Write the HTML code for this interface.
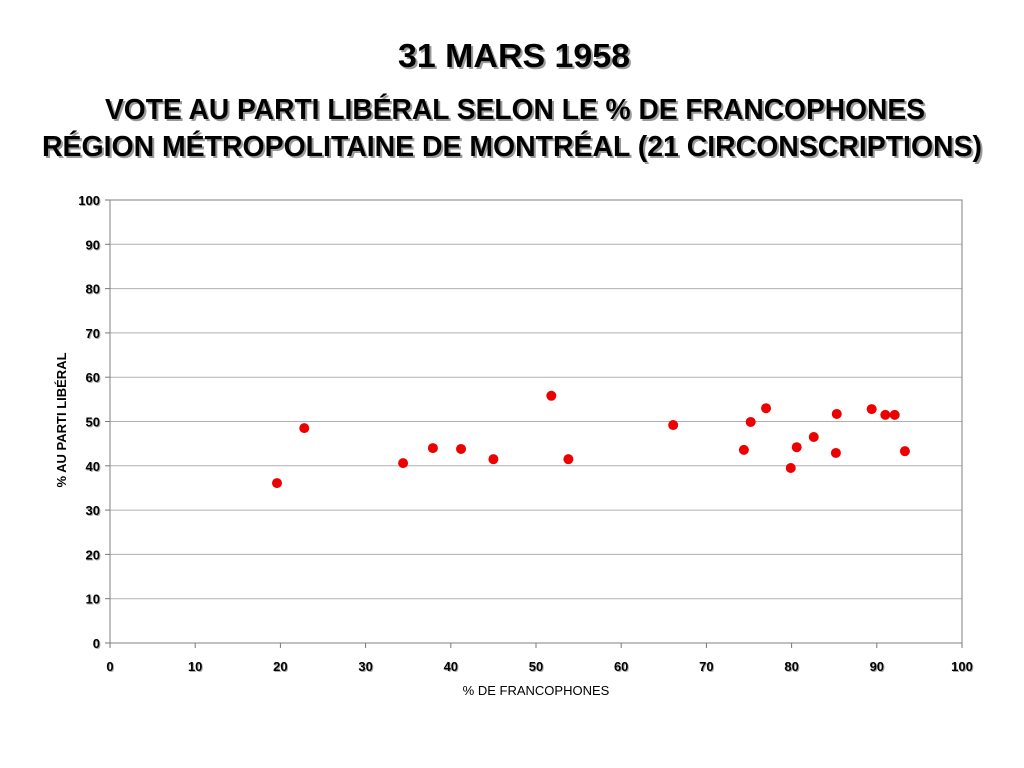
<!DOCTYPE html>
<html><head><meta charset="utf-8"><style>
html,body{margin:0;padding:0;background:#fff;}
svg{display:block;font-family:"Liberation Sans",sans-serif;}
.sh{fill:#9a9a9a;}
</style></head><body>
<svg id="chart" width="1024" height="768" viewBox="0 0 1024 768">
<g font-weight="bold" text-anchor="middle">
<text class="sh" x="516" y="69" font-size="33" textLength="232" lengthAdjust="spacingAndGlyphs">31 MARS 1958</text>
<text x="514" y="67" font-size="33" textLength="232" lengthAdjust="spacingAndGlyphs">31 MARS 1958</text>
<text class="sh" x="517" y="121" font-size="29" textLength="820" lengthAdjust="spacingAndGlyphs">VOTE AU PARTI LIBÉRAL SELON LE % DE FRANCOPHONES</text>
<text x="515" y="119" font-size="29" textLength="820" lengthAdjust="spacingAndGlyphs">VOTE AU PARTI LIBÉRAL SELON LE % DE FRANCOPHONES</text>
<text class="sh" x="514" y="158" font-size="29" textLength="940" lengthAdjust="spacingAndGlyphs">RÉGION MÉTROPOLITAINE DE MONTRÉAL (21 CIRCONSCRIPTIONS)</text>
<text x="512" y="156" font-size="29" textLength="940" lengthAdjust="spacingAndGlyphs">RÉGION MÉTROPOLITAINE DE MONTRÉAL (21 CIRCONSCRIPTIONS)</text>
</g>
<g id="grid"></g><g id="axes"></g><g id="marks"></g>
<text x="536" y="695" font-size="13" text-anchor="middle">% DE FRANCOPHONES</text>
<text transform="translate(66,420) rotate(-90)" font-size="13" font-weight="bold" text-anchor="middle">% AU PARTI LIBÉRAL</text>
</svg>
<script>
const xTicks=[0,10,20,30,40,50,60,70,80,90,100];
const yTicks=[0,10,20,30,40,50,60,70,80,90,100];
const francophones=[19.6,22.8,34.4,37.9,41.2,45.0,51.8,53.8,66.1,74.4,75.2,77.0,79.9,80.6,82.6,85.2,85.3,89.4,91.0,92.1,93.3];
const liberal=[36.1,48.5,40.6,44.0,43.8,41.5,55.8,41.5,49.2,43.6,49.9,53.0,39.5,44.2,46.5,42.9,51.7,52.8,51.5,51.5,43.3];
const X0=110,X1=962,Y0=643,Y1=200;
const sx=v=>X0+(v-0)/100*(X1-X0);
const sy=v=>Y0-(v-0)/100*(Y0-Y1);
const NS="http://www.w3.org/2000/svg";
function mk(t,a,p){const e=document.createElementNS(NS,t);for(const k in a)e.setAttribute(k,a[k]);p.appendChild(e);return e;}
const grid=document.getElementById('grid'),axes=document.getElementById('axes'),marks=document.getElementById('marks');
yTicks.forEach(v=>{
 const l=mk('line',{x1:X0,x2:X1,y1:sy(v),y2:sy(v),stroke:'#b0b0b0','stroke-width':1},grid);
 
 
 mk('line',{x1:X0-5,x2:X0,y1:sy(v),y2:sy(v),stroke:'#777'},axes);
 const s=mk('text',{x:X0-10+1,y:sy(v)+5+1,'font-size':13,'font-weight':'bold','text-anchor':'end',fill:'#aaa'},axes);s.textContent=v;
 const t=mk('text',{x:X0-10,y:sy(v)+5,'font-size':13,'font-weight':'bold','text-anchor':'end'},axes);t.textContent=v;
 
 
});
xTicks.forEach(v=>{
 mk('line',{x1:sx(v),x2:sx(v),y1:Y0,y2:Y0+5,stroke:'#777'},axes);
 const s=mk('text',{x:sx(v)+1,y:Y0+28+1,'font-size':13,'font-weight':'bold','text-anchor':'middle',fill:'#aaa'},axes);s.textContent=v;
 const t=mk('text',{x:sx(v),y:Y0+28,'font-size':13,'font-weight':'bold','text-anchor':'middle'},axes);t.textContent=v;
 
 
});
const fr=mk('rect',{x:X0,y:Y1,width:X1-X0,height:Y0-Y1,fill:'none',stroke:'#808080','stroke-width':1},axes);


francophones.forEach((x,i)=>{
 const c=mk('circle',{cx:sx(x),cy:sy(liberal[i]),r:5,fill:'#ee0000'},marks);
 
 
});
</script>
</body></html>
